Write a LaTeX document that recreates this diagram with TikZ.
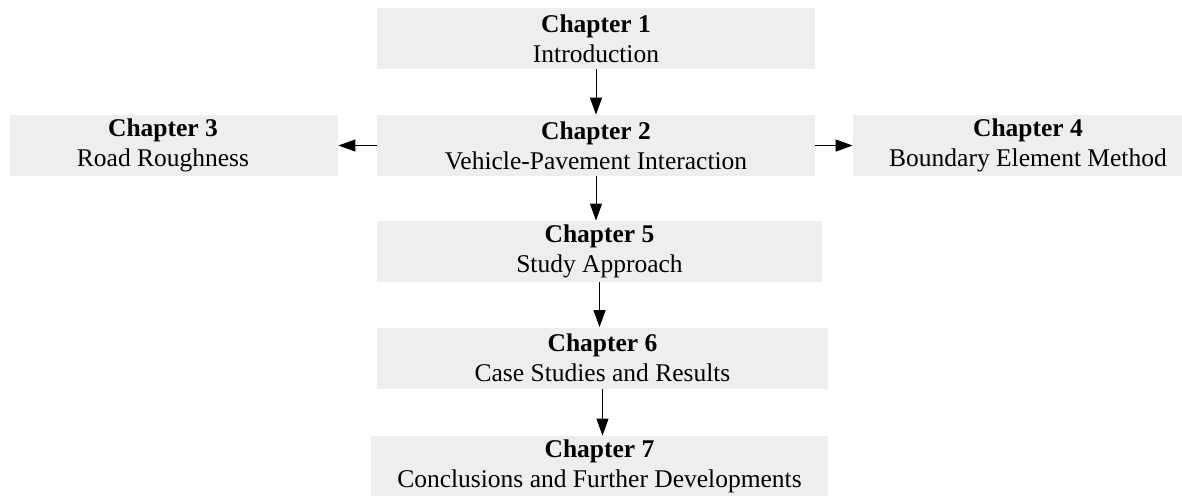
\documentclass[tikz,border=0pt]{standalone}
\usepackage{fontspec}
\setmainfont{Liberation Serif}
\usetikzlibrary{arrows.meta}
\definecolor{boxgray}{RGB}{238,238,238}
\tikzset{
	chapbox/.style={fill=boxgray, inner sep=0pt, minimum height=30.5pt, align=center,
		font=\fontsize{12.75}{15}\selectfont},
	flow/.style={-{Triangle[length=8.5pt,width=6pt]}, line width=0.5pt}
}
\begin{document}
\begin{tikzpicture}[x=0.5pt,y=-0.5pt]
	\useasboundingbox (0,0) rectangle (1182,495);

	% chapters
	\node[chapbox, minimum width=219pt] (ch1) at (596,38.5) {\textbf{Chapter 1}\\Introduction};
	\node[chapbox, minimum width=219pt] (ch2) at (596,145.5) {\textbf{Chapter 2}\\Vehicle-Pavement Interaction};
	\node[chapbox, minimum width=164pt] (ch3) at (174,145.5) {\hspace*{-11pt}\textbf{Chapter 3}\\\hspace*{-11pt}Road Roughness};
	\node[chapbox, minimum width=175pt] (ch4) at (1028,145.5) {\textbf{Chapter 4}\\Boundary Element Method};
	\node[chapbox, minimum width=222.5pt] (ch5) at (599.5,251.5) {\textbf{Chapter 5}\\Study Approach};
	\node[chapbox, minimum width=225.5pt] (ch6) at (602.5,358) {\textbf{Chapter 6}\\Case Studies and Results};
	\node[chapbox, minimum width=228.5pt] (ch7) at (599.5,466.5) {\textbf{Chapter 7}\\Conclusions and Further Developments};

	% arrows
	\draw[flow] (ch1.south) -- (ch1.south |- ch2.north);
	\draw[flow] (ch2.west) -- (ch3.east);
	\draw[flow] (ch2.east) -- (ch4.west);
	\draw[flow] (ch2.south) -- (ch2.south |- ch5.north);
	\draw[flow] (ch5.south) -- (ch5.south |- ch6.north);
	\draw[flow] (ch6.south) -- (ch6.south |- ch7.north);

\end{tikzpicture}
\end{document}
